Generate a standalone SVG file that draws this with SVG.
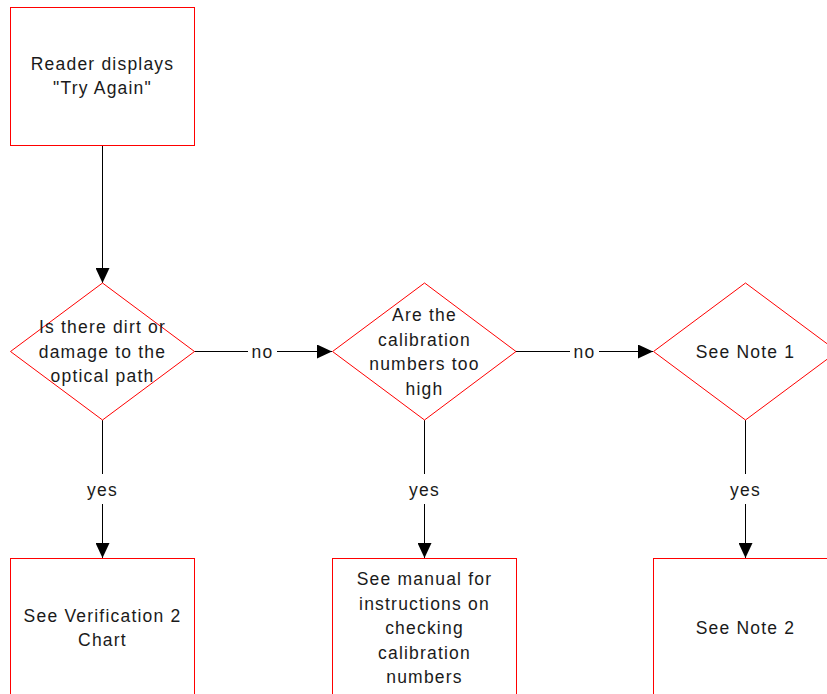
<svg xmlns="http://www.w3.org/2000/svg" width="827" height="694" viewBox="0 0 827 694">
  <style>
    .shape { fill: #ffffff; stroke: #ff0000; stroke-width: 1; }
    .edge { fill: none; stroke: #000000; stroke-width: 1; }
    .lbl { font-family: "Liberation Sans", Arial, sans-serif; font-size: 17.5px; letter-spacing: 1.2px; fill: #1a1a1a; text-anchor: middle; dominant-baseline: central; }
    .gap { fill: #ffffff; stroke: none; }
  </style>
  <defs>
    <marker id="arrow" markerWidth="15" markerHeight="14" refX="15" refY="7" orient="auto" markerUnits="userSpaceOnUse">
      <path d="M0,0 L15,7 L0,14 Z" fill="#000000"/>
    </marker>
  </defs>
  <rect width="827" height="694" fill="#ffffff"/>

  <!-- connectors -->
  <g id="connectors">
    <line class="edge" x1="102.5" y1="145" x2="102.5" y2="283" marker-end="url(#arrow)"/>
    <line class="edge" x1="194" y1="351.5" x2="332" y2="351.5" marker-end="url(#arrow)"/>
    <rect class="gap" x="248" y="340" width="29" height="22"/>
    <text class="lbl" x="262.5" y="351.5">no</text>
    <line class="edge" x1="515" y1="351.5" x2="653" y2="351.5" marker-end="url(#arrow)"/>
    <rect class="gap" x="570" y="340" width="29" height="22"/>
    <text class="lbl" x="584.5" y="351.5">no</text>
    <line class="edge" x1="102.5" y1="420" x2="102.5" y2="558" marker-end="url(#arrow)"/>
    <rect class="gap" x="85" y="474" width="35" height="30"/>
    <text class="lbl" x="102.5" y="490">yes</text>
    <line class="edge" x1="424.5" y1="420" x2="424.5" y2="558" marker-end="url(#arrow)"/>
    <rect class="gap" x="407" y="474" width="35" height="30"/>
    <text class="lbl" x="424.5" y="490">yes</text>
    <line class="edge" x1="745.5" y1="420" x2="745.5" y2="558" marker-end="url(#arrow)"/>
    <rect class="gap" x="728" y="474" width="35" height="30"/>
    <text class="lbl" x="745.5" y="490">yes</text>
  </g>

  <!-- start box -->
  <g id="start">
    <rect class="shape" x="10.5" y="7.5" width="184" height="138"/>
    <text class="lbl" x="102.5" y="64">Reader displays</text>
    <text class="lbl" x="102.5" y="88">"Try Again"</text>
  </g>

  <!-- decisions -->
  <g id="dirt-check">
    <polygon class="shape" points="102.5,283 194.5,351.5 102.5,420 10.5,351.5"/>
    <text class="lbl" x="102.5" y="327">Is there dirt or</text>
    <text class="lbl" x="102.5" y="351.5">damage to the</text>
    <text class="lbl" x="102.5" y="376">optical path</text>
  </g>
  <g id="calibration-check">
    <polygon class="shape" points="424.5,283 516,351.5 424.5,420 332.5,351.5"/>
    <text class="lbl" x="424.5" y="315">Are the</text>
    <text class="lbl" x="424.5" y="339.5">calibration</text>
    <text class="lbl" x="424.5" y="364">numbers too</text>
    <text class="lbl" x="424.5" y="388.5">high</text>
  </g>
  <g id="note1">
    <polygon class="shape" points="745.5,283 837.5,351.5 745.5,420 653.5,351.5"/>
    <text class="lbl" x="745.5" y="351.5">See Note 1</text>
  </g>

  <!-- outcome boxes -->
  <g id="verification">
    <rect class="shape" x="10.5" y="558.5" width="184" height="138"/>
    <text class="lbl" x="102.5" y="615.5">See Verification 2</text>
    <text class="lbl" x="102.5" y="640">Chart</text>
  </g>
  <g id="manual">
    <rect class="shape" x="332.5" y="558.5" width="184" height="138"/>
    <text class="lbl" x="424.5" y="579">See manual for</text>
    <text class="lbl" x="424.5" y="603.5">instructions on</text>
    <text class="lbl" x="424.5" y="628">checking</text>
    <text class="lbl" x="424.5" y="652.5">calibration</text>
    <text class="lbl" x="424.5" y="677">numbers</text>
  </g>
  <g id="note2">
    <rect class="shape" x="653.5" y="558.5" width="184" height="138"/>
    <text class="lbl" x="745.5" y="628">See Note 2</text>
  </g>
</svg>
